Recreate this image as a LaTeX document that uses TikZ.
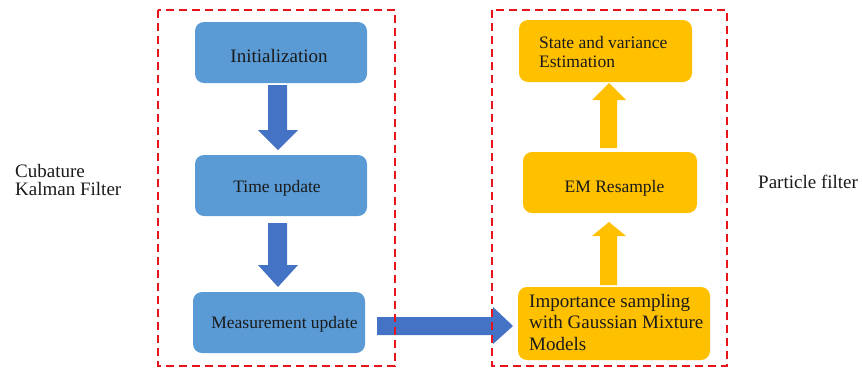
\documentclass[tikz,border=0pt]{standalone}
\usepackage{fontspec}
\setmainfont{Liberation Serif}
\usetikzlibrary{calc}
\definecolor{boxblue}{HTML}{5B9BD5}
\definecolor{arrblue}{HTML}{4472C4}
\definecolor{boxorange}{HTML}{FFC000}
\definecolor{dashred}{HTML}{E8141C}
\definecolor{txt}{HTML}{1A1A1A}
\tikzset{
  bluebox/.style={fill=boxblue, rounded corners=9bp, draw=none},
  orangebox/.style={fill=boxorange, rounded corners=9bp, draw=none},
  lbl/.style={inner sep=0pt, text=txt, font=\fontsize{17.5bp}{19bp}\selectfont},
  biglbl/.style={inner sep=0pt, text=txt, font=\fontsize{19bp}{21.5bp}\selectfont},
  redframe/.style={draw=dashred, line width=1.8bp, dash pattern=on 8bp off 5bp},
}
\begin{document}
\begin{tikzpicture}[x=1bp,y=-1bp]
\useasboundingbox (0,0) rectangle (862,369);
% blue boxes
\path[bluebox] (195,22) rectangle (367,83);
\path[bluebox] (195,155) rectangle (367,216);
\path[bluebox] (193,292) rectangle (365,353);
% orange boxes
\path[orangebox] (519,20) rectangle (692,82);
\path[orangebox] (523,152) rectangle (697,213);
\path[orangebox] (518,287) rectangle (710,360);
% texts
\node[biglbl, anchor=base] (init) at (279,62) {Initialization};
\node[lbl, anchor=base] (time) at (277,192) {Time update};
\node[lbl, anchor=base] (meas) at (284.5,328) {Measurement update};
\node[lbl, anchor=base west, align=left] (state) at (539,67) {State and variance\\Estimation};
\node[lbl, anchor=base] (em) at (614.5,192) {EM Resample};
\node[biglbl, anchor=base west, align=left] (imp) at (529,350) {Importance sampling\\with Gaussian Mixture\\Models};
\node[biglbl, anchor=base west, align=left, font=\fontsize{19bp}{17.5bp}\selectfont] (ckf) at (15,195) {Cubature\\Kalman Filter};
\node[biglbl, anchor=base west] (pf) at (758,188) {Particle filter};
% block arrows
\fill[arrblue] (268,85) -- (287,85) -- (287,130) -- (298,130) -- (278,150) -- (258,130) -- (268,130) -- cycle;
\fill[arrblue] (268,223) -- (287,223) -- (287,265) -- (298,265) -- (278,287) -- (258,265) -- (268,265) -- cycle;
\fill[arrblue] (377,317) -- (493,317) -- (493,307) -- (513,326) -- (493,344) -- (493,335) -- (377,335) -- cycle;
\fill[boxorange] (600,148) -- (600,100) -- (592,100) -- (609,83) -- (626,100) -- (617,100) -- (617,148) -- cycle;
\fill[boxorange] (600,285) -- (600,236) -- (592,236) -- (609,222) -- (626,236) -- (617,236) -- (617,285) -- cycle;
% dashed frames
\draw[redframe] (158,10) rectangle (395,366);
\draw[redframe] (492,10) rectangle (727,366);
\end{tikzpicture}
\end{document}
